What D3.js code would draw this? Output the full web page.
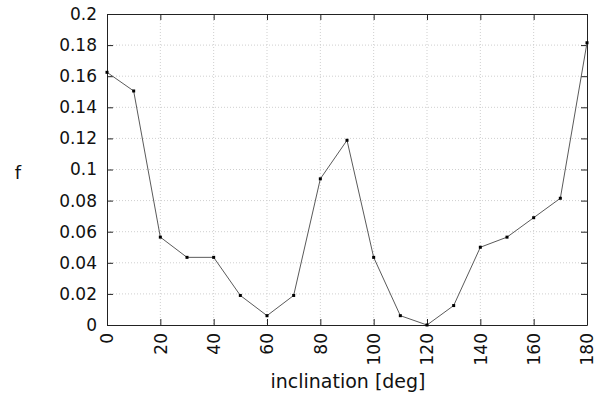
<!DOCTYPE html>
<html>
<head>
<meta charset="utf-8">
<script src="https://cdn.jsdelivr.net/npm/d3@7"></script>
<style>
  body { margin: 0; background: #fff; }
  text { font-family: "DejaVu Sans", sans-serif; fill: #111; }
</style>
</head>
<body>
<svg width="613" height="394"></svg>
<script>
const inclination = [0, 10, 20, 30, 40, 50, 60, 70, 80, 90, 100, 110, 120, 130, 140, 150, 160, 170, 180];
const fValues = [0.1625, 0.1505, 0.0565, 0.0435, 0.0435, 0.019, 0.006, 0.019, 0.094, 0.1188, 0.0435, 0.006, 0.0, 0.0125, 0.050, 0.0565, 0.069, 0.0815, 0.1815];
const xTicks = [0, 20, 40, 60, 80, 100, 120, 140, 160, 180];
const yTicks = [0, 0.02, 0.04, 0.06, 0.08, 0.1, 0.12, 0.14, 0.16, 0.18, 0.2];

const svg = d3.select("svg");
const margin = { top: 14, right: 26, bottom: 69, left: 107 };
const width = +svg.attr("width");
const height = +svg.attr("height");
const innerWidth = width - margin.left - margin.right;
const innerHeight = height - margin.top - margin.bottom;

const g = svg.append("g").attr("transform", `translate(${margin.left},${margin.top})`);

const x = d3.scaleLinear().domain([0, 180]).range([0, innerWidth]);
const y = d3.scaleLinear().domain([0, 0.2]).range([innerHeight, 0]);

// grid
g.append("g").selectAll("line")
  .data(xTicks.slice(1, -1))
  .enter().append("line")
  .attr("x1", d => x(d)).attr("x2", d => x(d))
  .attr("y1", 0).attr("y2", innerHeight)
  .attr("stroke", "#cfcfcf").attr("stroke-dasharray", "1,2");

g.append("g").selectAll("line")
  .data(yTicks.slice(1, -1))
  .enter().append("line")
  .attr("x1", 0).attr("x2", innerWidth)
  .attr("y1", d => y(d)).attr("y2", d => y(d))
  .attr("stroke", "#cfcfcf").attr("stroke-dasharray", "1,2");

// axes with inward ticks
const tk = 6;
const fmt = d => d3.format("~g")(d);

const bottom = g.append("g")
  .attr("transform", `translate(0,${innerHeight})`)
  .call(d3.axisBottom(x).tickValues(xTicks).tickSizeInner(-tk).tickSizeOuter(0).tickPadding(10));
bottom.selectAll("text")
  .attr("transform", "rotate(-90)")
  .attr("text-anchor", "end")
  .attr("dy", "0.35em")
  .attr("x", -8).attr("y", 0)
  .style("font-size", "17px");

const left = g.append("g")
  .call(d3.axisLeft(y).tickValues(yTicks).tickFormat(fmt).tickSizeInner(-tk).tickSizeOuter(0).tickPadding(10));
left.selectAll("text").style("font-size", "17px");

g.append("g")
  .call(d3.axisTop(x).tickValues(xTicks).tickSizeInner(-tk).tickSizeOuter(0).tickFormat(""));
g.append("g")
  .attr("transform", `translate(${innerWidth},0)`)
  .call(d3.axisRight(y).tickValues(yTicks).tickSizeInner(-tk).tickSizeOuter(0).tickFormat(""));

g.selectAll(".domain").attr("stroke", "#222");
g.selectAll(".tick line").attr("stroke", "#222");

// line and points
const line = d3.line()
  .x((d, i) => x(inclination[i]))
  .y(d => y(d));

g.append("path")
  .datum(fValues)
  .attr("fill", "none")
  .attr("stroke", "#5a5a5a")
  .attr("stroke-width", 1)
  .attr("d", line);

g.append("g").selectAll("rect")
  .data(fValues)
  .enter().append("rect")
  .attr("x", (d, i) => x(inclination[i]) - 1.5)
  .attr("y", d => y(d) - 1.5)
  .attr("width", 3).attr("height", 3)
  .attr("fill", "#000");

// labels
svg.append("text")
  .attr("x", 348)
  .attr("y", 388)
  .attr("text-anchor", "middle")
  .style("font-size", "19px")
  .text("inclination [deg]");

svg.append("text")
  .attr("x", 18)
  .attr("y", 179)
  .attr("text-anchor", "middle")
  .style("font-size", "18px")
  .text("f");
</script>
</body>
</html>
